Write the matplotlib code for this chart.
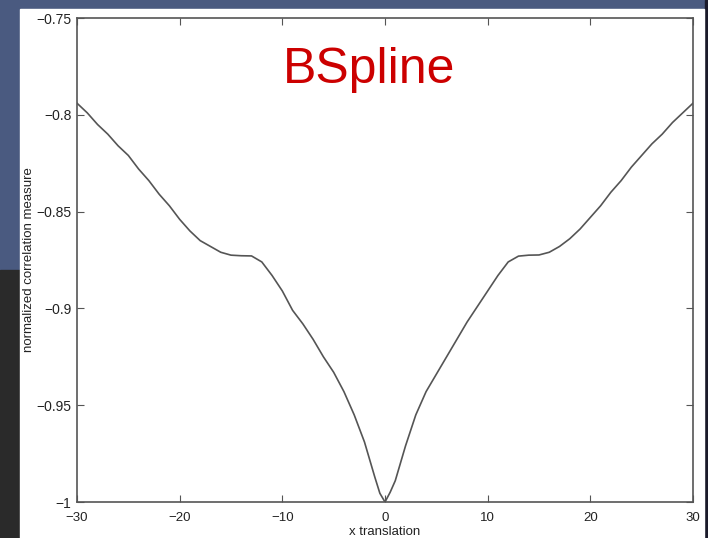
import matplotlib.pyplot as plt
from matplotlib.patches import Rectangle

plt.rcParams['font.family'] = ['Liberation Sans', 'DejaVu Sans']

# correlation measure vs. x translation
x_shift = [-30, -29, -28, -27, -26, -25, -24, -23, -22, -21,
           -20, -19, -18, -17, -16, -15, -14, -13, -12, -11,
           -10, -9, -8, -7, -6, -5, -4, -3, -2, -1, -0.5,
           0, 0.5, 1, 2, 3, 4, 5, 6, 7, 8, 9,
           10, 11, 12, 13, 14, 15, 16, 17, 18, 19,
           20, 21, 22, 23, 24, 25, 26, 27, 28, 29, 30]
corr = [-0.794, -0.799, -0.805, -0.810, -0.816, -0.821, -0.828, -0.834, -0.841, -0.847,
        -0.854, -0.860, -0.865, -0.868, -0.871, -0.8725, -0.8728, -0.8729, -0.876, -0.883,
        -0.891, -0.901, -0.908, -0.916, -0.925, -0.933, -0.943, -0.955, -0.969, -0.987, -0.9955,
        -1.0, -0.995, -0.989, -0.971, -0.955, -0.943, -0.934, -0.925, -0.916, -0.907, -0.899,
        -0.891, -0.883, -0.876, -0.873, -0.8725, -0.8724, -0.871, -0.868, -0.864, -0.859,
        -0.853, -0.847, -0.840, -0.834, -0.827, -0.821, -0.815, -0.810, -0.804, -0.799, -0.794]

xticks = [-30, -20, -10, 0, 10, 20, 30]
xtick_labels = ['\u221230', '\u221220', '\u221210', '0', '10', '20', '30']
yticks = [-1.0, -0.95, -0.9, -0.85, -0.8, -0.75]
ytick_labels = ['\u22121', '\u22120.95', '\u22120.9', '\u22120.85', '\u22120.8', '\u22120.75']

W, H = 708, 538
fig = plt.figure(figsize=(W / 100, H / 100), dpi=100)
fig.patch.set_facecolor('#4a5a80')

# slide backdrop: dark lower band, then the white figure panel
fig.patches.append(Rectangle((0, 0), 1, (H - 270) / H, transform=fig.transFigure,
                             color='#2a2a2a', zorder=0))
fig.patches.append(Rectangle((705 / W, 0), 3 / W, 1, transform=fig.transFigure,
                             color='#1a1a2a', zorder=0))
fig.patches.append(Rectangle((20 / W, 0), (704 - 20) / W, (H - 9) / H,
                             transform=fig.transFigure, color='white', zorder=1))

ax = fig.add_axes([77 / W, (H - 502) / H, (693 - 77) / W, (502 - 18) / H])
ax.set_zorder(2)
ax.plot(x_shift, corr, color='#555555', lw=1.2)

ax.set_xlim(-30, 30)
ax.set_ylim(-1.0, -0.75)
ax.set_xticks(xticks)
ax.set_xticklabels(xtick_labels)
ax.set_yticks(yticks)
ax.set_yticklabels(ytick_labels)
ax.tick_params(direction='in', length=5, width=0.8, color='#555555',
               top=True, right=True, labelsize=10, labelcolor='#222222')
ax.tick_params(axis='x', labelsize=9.5, pad=7)
ax.tick_params(axis='y', pad=4)
for s in ax.spines.values():
    s.set_color('#555555')
    s.set_linewidth(1.2)

ax.set_xlabel('x translation', fontsize=9.5, color='#222222')
ax.xaxis.set_label_coords(0.5, -0.05)
ax.set_ylabel('normalized correlation measure', fontsize=9.5, color='#222222')
ax.yaxis.set_label_coords(-0.068, 0.5)

fig.text(369 / W, 1 - 83 / H, 'BSpline', color='#cc0000', fontsize=36,
         ha='center', va='baseline', zorder=3)

fig.savefig('out.png', dpi=100, facecolor=fig.get_facecolor())
